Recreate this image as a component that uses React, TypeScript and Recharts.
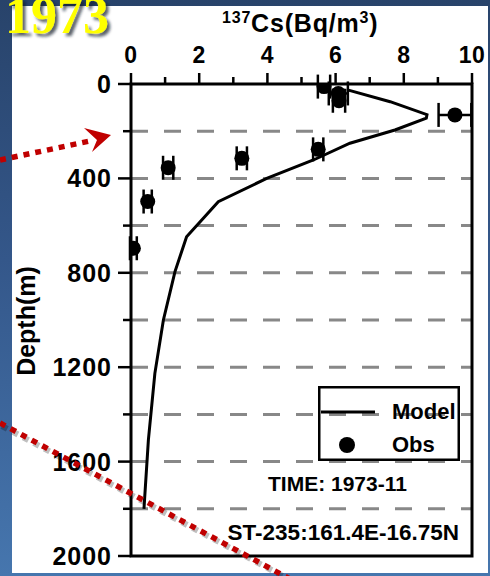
import React from 'react';
import { ScatterChart, Scatter, XAxis, YAxis, CartesianGrid, ErrorBar, ReferenceArea, Legend } from 'recharts';

// Model profile: 137Cs concentration (Bq/m3) vs depth (m)
const modelConc = [6.35, 7.6, 8.68, 8.66, 7.74, 6.42, 5.35, 3.98, 2.56, 1.63, 1.29, 0.95, 0.7, 0.51, 0.38];
const modelDepth = [25, 75, 130, 145, 195, 251, 322, 400, 499, 647, 795, 1000, 1226, 1508, 1800];

// Observations
const obsConc = [5.66, 6.08, 6.1, 9.5, 5.49, 3.25, 1.09, 0.49, 0.07];
const obsDepth = [11, 40, 71, 131, 277, 315, 355, 498, 696];
const obsErr = [0.18, 0.28, 0.18, 0.48, 0.15, 0.15, 0.15, 0.12, 0.1];

const xTicks = [0, 1, 2, 3, 4, 5, 6, 7, 8, 9, 10];
const xLabelTicks = [0, 2, 4, 6, 8, 10];
const yTicks = [0, 200, 400, 600, 800, 1000, 1200, 1400, 1600, 1800, 2000];
const yLabelTicks = [0, 400, 800, 1200, 1600, 2000];
const gridDepths = [200, 400, 600, 800, 1000, 1200, 1400, 1600, 1800];

const modelData = modelConc.map((c, i) => ({ x: c, y: modelDepth[i] }));
const obsData = obsConc.map((c, i) => ({ x: c, y: obsDepth[i], err: obsErr[i] }));

const FONT = '"Liberation Sans", Arial, Helvetica, sans-serif';

const XTick = (props: any) => {
  const { x, y, payload } = props;
  const v = payload.value;
  const major = xLabelTicks.includes(v);
  return (
    <g>
      <line x1={x} x2={x} y1={y} y2={y - (major ? 11 : 7)} stroke="#000" strokeWidth={2.5} />
      {major && (
        <text x={x} y={y - 21} textAnchor="middle" fontFamily={FONT} fontWeight="bold" fontSize={23} letterSpacing={0.5} fill="#000">
          {v}
        </text>
      )}
    </g>
  );
};

const YTick = (props: any) => {
  const { x, y, payload } = props;
  const v = payload.value;
  const major = yLabelTicks.includes(v);
  return (
    <g>
      <line x1={x - (major ? 13 : 8)} x2={x} y1={y} y2={y} stroke="#000" strokeWidth={2.5} />
      {major && (
        <text x={x - 19} y={y + 9} textAnchor="end" fontFamily={FONT} fontWeight="bold" fontSize={25} letterSpacing={1} fill="#000">
          {v}
        </text>
      )}
    </g>
  );
};

const LegendBox = () => (
  <svg width={142} height={75} style={{ display: 'block' }}>
    <rect x={1.25} y={1.25} width={139.5} height={72.5} fill="none" stroke="#000" strokeWidth={2.5} />
    <line x1={3} x2={57} y1={26} y2={26} stroke="#000" strokeWidth={3} />
    <text x={74} y={33} fontFamily={FONT} fontWeight="bold" fontSize={22} fill="#000">Model</text>
    <circle cx={29} cy={59} r={8} fill="#000" />
    <text x={74} y={66} fontFamily={FONT} fontWeight="bold" fontSize={22} fill="#000">Obs</text>
  </svg>
);

const NoShape = () => <g />;
const Dot = (props: any) => <circle cx={props.cx} cy={props.cy} r={7.5} fill="#000" />;

export default function App() {
  return (
    <div
      style={{
        position: 'absolute',
        left: 0,
        top: 0,
        width: 490,
        height: 576,
        overflow: 'hidden',
        background: 'linear-gradient(180deg, #28436a 0%, #34578a 45%, #4676ae 100%)',
      }}
    >
      <div style={{ position: 'absolute', left: 12, top: 6, width: 476, height: 567, background: '#fff' }} />
      <div style={{ position: 'absolute', left: 0, top: 0 }}>
        <ScatterChart width={490} height={576} margin={{ top: 44, right: 18, bottom: 20, left: 71 }}>
          <CartesianGrid
            vertical={false}
            horizontalValues={gridDepths}
            stroke="#888"
            strokeWidth={3}
            strokeDasharray="17 16"
          />
          <XAxis
            type="number"
            dataKey="x"
            domain={[0, 10]}
            ticks={xTicks}
            interval={0}
            orientation="top"
            height={40}
            tickSize={0}
            tickMargin={0}
            tickLine={false}
            axisLine={false}
            allowDataOverflow
            tick={(p: any) => <XTick {...p} />}
          />
          <YAxis
            type="number"
            dataKey="y"
            domain={[0, 2000]}
            reversed
            ticks={yTicks}
            interval={0}
            width={60}
            tickSize={0}
            tickMargin={0}
            tickLine={false}
            axisLine={false}
            allowDataOverflow
            tick={(p: any) => <YTick {...p} />}
          />
          <ReferenceArea x1={0} x2={10} y1={0} y2={2000} fill="none" stroke="#000" strokeWidth={3} ifOverflow="visible" />
          <Scatter
            name="Model"
            data={modelData}
            line={{ stroke: '#000', strokeWidth: 3 }}
            shape={NoShape}
            isAnimationActive={false}
          />
          <Scatter name="Obs" data={obsData} shape={Dot} fill="#000" isAnimationActive={false}>
            <ErrorBar dataKey="err" direction="x" width={12} stroke="#000" strokeWidth={2.5} />
          </Scatter>
          <Legend
            layout="vertical"
            align="center"
            verticalAlign="middle"
            content={() => <LegendBox />}
            wrapperStyle={{ position: 'absolute', left: 318, top: 386, width: 142, height: 75 }}
          />
        </ScatterChart>
      </div>
      <svg
        width={490}
        height={576}
        style={{ position: 'absolute', left: 0, top: 0, pointerEvents: 'none' }}
      >
        <defs>
          <filter id="ysh" x="-10%" y="-30%" width="130%" height="160%">
            <feDropShadow dx={3} dy={3} stdDeviation={1.5} floodColor="#111a2a" floodOpacity={0.7} />
          </filter>
        </defs>
        <text x={5} y={33} filter="url(#ysh)" fontFamily='"Liberation Serif", "Times New Roman", serif' fontWeight="bold" fontSize={52} fill="#ffff00">
          1973
        </text>
        <text x={222} y={32} fontFamily={FONT} fontWeight="bold" fontSize={25} letterSpacing={0.8} fill="#000">
          <tspan fontSize={16} dy={-9}>137</tspan>
          <tspan dy={9}>Cs(Bq/m</tspan>
          <tspan fontSize={16} dy={-9}>3</tspan>
          <tspan dy={9}>)</tspan>
        </text>
        <text
          x={35}
          y={321}
          transform="rotate(-90 35 321)"
          textAnchor="middle"
          fontFamily={FONT}
          fontWeight="bold"
          fontSize={25}
          fill="#000"
        >
          Depth(m)
        </text>
        <text x={268} y={491} fontFamily={FONT} fontWeight="bold" fontSize={21} fill="#000">
          TIME: 1973-11
        </text>
        <text x={459} y={540} textAnchor="end" fontFamily={FONT} fontWeight="bold" fontSize={22.5} fill="#000">
          ST-235:161.4E-16.75N
        </text>
        <line x1={2} y1={426} x2={292} y2={581} stroke="#000" strokeOpacity={0.25} strokeWidth={6} strokeDasharray="6 6" />
        <line x1={0} y1={423} x2={290} y2={579} stroke="#c00000" strokeWidth={5.5} strokeDasharray="6 6" />
        <line x1={0} y1={160} x2={90} y2={141} stroke="#c00000" strokeWidth={5.5} strokeDasharray="6 6" />
        <polygon points="84,128 111,135 92,152 97,140" fill="#c00000" />
      </svg>
    </div>
  );
}
